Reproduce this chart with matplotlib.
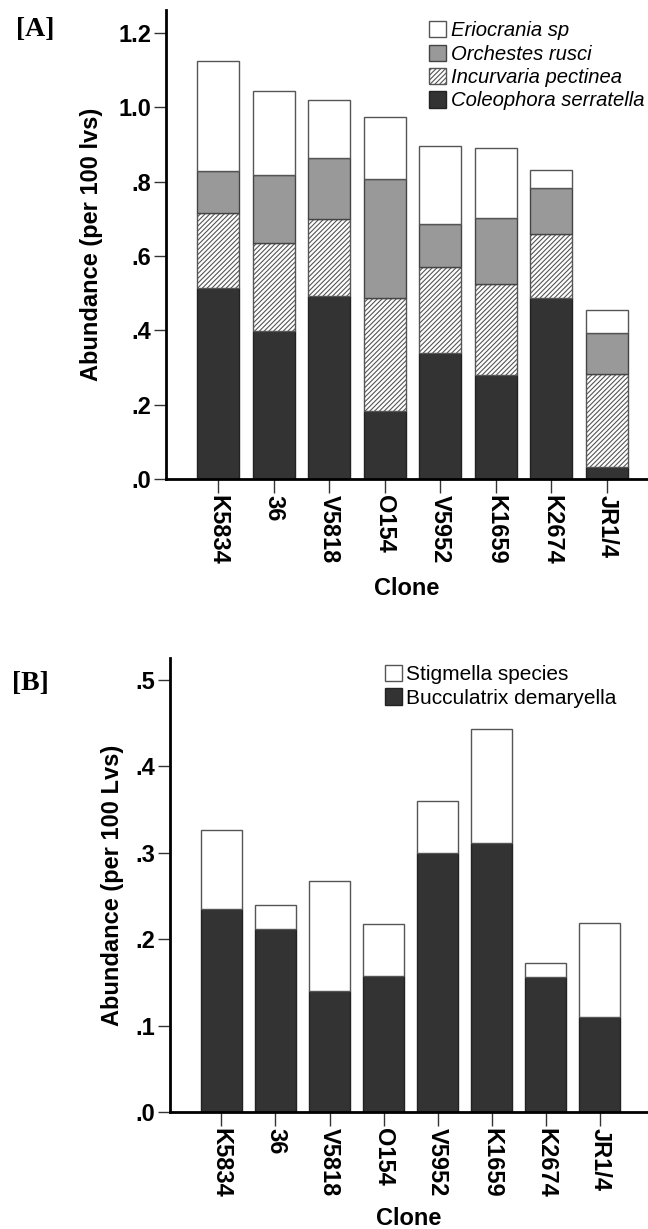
import numpy as np
import matplotlib.pyplot as plt

# clones on the x axis (same order in both panels)
clones = ['K5834', '36', 'V5818', 'O154', 'V5952', 'K1659', 'K2674', 'JR1/4']

# panel A: cumulative tops of each stacked layer (per 100 leaves)
coleophora_top = [0.513, 0.398, 0.492, 0.182, 0.340, 0.281, 0.487, 0.033]
incurvaria_top = [0.717, 0.634, 0.700, 0.487, 0.571, 0.524, 0.659, 0.283]
orchestes_top = [0.828, 0.818, 0.863, 0.808, 0.686, 0.703, 0.784, 0.394]
eriocrania_top = [1.125, 1.044, 1.021, 0.973, 0.895, 0.892, 0.831, 0.455]

# panel B: cumulative tops (per 100 leaves)
bucculatrix_top = [0.2345, 0.212, 0.140, 0.157, 0.299, 0.3105, 0.1566, 0.110]
stigmella_top = [0.326, 0.239, 0.267, 0.217, 0.3595, 0.4425, 0.172, 0.219]

plt.rcParams['font.family'] = ['Liberation Sans', 'DejaVu Sans']
plt.rcParams['hatch.linewidth'] = 0.8

fig = plt.figure(figsize=(6.48, 12.29), dpi=100)
W, H = 648, 1229
axA = fig.add_axes([166 / W, 1 - 479 / H, (648 - 166) / W, (479 - 10) / H])
axB = fig.add_axes([170 / W, 1 - 1112 / H, (648 - 170) / W, (1112 - 658) / H])

x = np.arange(len(clones))
bw = 0.76
dark = '#333333'
grey = '#999999'


def stack(ax, tops, styles):
    bottom = np.zeros(len(clones))
    handles = []
    for top, st in zip(tops, styles):
        top = np.array(top)
        h = ax.bar(x, top - bottom, bw, bottom=bottom, linewidth=1.0, **st)
        handles.append(h)
        bottom = top
    return handles


stylesA = [
    dict(color=dark, edgecolor='#222222', label='Coleophora serratella'),
    dict(facecolor='white', edgecolor='#555555', hatch='///////', label='Incurvaria pectinea'),
    dict(color=grey, edgecolor='#444444', label='Orchestes rusci'),
    dict(facecolor='white', edgecolor='#555555', label='Eriocrania sp'),
]
hA = stack(axA, [coleophora_top, incurvaria_top, orchestes_top, eriocrania_top], stylesA)

stylesB = [
    dict(color=dark, edgecolor='#222222', label='Bucculatrix demaryella'),
    dict(facecolor='white', edgecolor='#555555', label='Stigmella species'),
]
hB = stack(axB, [bucculatrix_top, stigmella_top], stylesB)

for ax in (axA, axB):
    ax.spines['top'].set_visible(False)
    ax.spines['right'].set_visible(False)
    ax.spines['left'].set_linewidth(2.0)
    ax.spines['bottom'].set_linewidth(2.0)
    ax.set_xticks(x)
    ax.set_xticklabels(clones, rotation=270, fontsize=17, fontweight='bold')
    ax.tick_params(axis='x', length=10, width=1, color='#333333', pad=1.5)
    ax.tick_params(axis='y', length=9, width=1, color='#333333', pad=1.5,
                   labelsize=17)

axA.set_xlim(-0.94, 7.74)
axA.set_ylim(0, 1.262)
axA.set_yticks([0, 0.2, 0.4, 0.6, 0.8, 1.0, 1.2])
axA.set_yticklabels(['.0', '.2', '.4', '.6', '.8', '1.0', '1.2'], fontweight='bold')
axA.set_ylabel('Abundance (per 100 lvs)', fontsize=17, fontweight='bold')
axA.yaxis.set_label_coords(-0.131, 0.5)
axA.set_xlabel('Clone', fontsize=17, fontweight='bold', labelpad=9)

axB.set_xlim(-0.95, 7.89)
axB.set_ylim(0, 0.525)
axB.set_yticks([0, 0.1, 0.2, 0.3, 0.4, 0.5])
axB.set_yticklabels(['.0', '.1', '.2', '.3', '.4', '.5'], fontweight='bold')
axB.set_ylabel('Abundance (per 100 Lvs)', fontsize=17, fontweight='bold')
axB.yaxis.set_label_coords(-0.096, 0.5)
axB.set_xlabel('Clone', fontsize=17, fontweight='bold', labelpad=7)

legA = axA.legend(hA[::-1], [s['label'] for s in stylesA[::-1]], loc='upper left',
                  bbox_to_anchor=(0.545, 0.976), frameon=False, handlelength=0.85,
                  handleheight=0.85, handletextpad=0.25, labelspacing=0.21,
                  borderaxespad=0, borderpad=0, prop=dict(style='italic', size=14.6))
legB = axB.legend(hB[::-1], [s['label'] for s in stylesB[::-1]], loc='upper left',
                  bbox_to_anchor=(0.449, 0.985), frameon=False, handlelength=0.85,
                  handleheight=0.85, handletextpad=0.2, labelspacing=0.2,
                  borderaxespad=0, borderpad=0, prop=dict(size=15))

fig.text(16 / W, 1 - 29 / H, '[A]', family='Liberation Serif', weight='bold',
         fontsize=20, va='center', ha='left')
fig.text(12 / W, 1 - 684 / H, '[B]', family='Liberation Serif', weight='bold',
         fontsize=20, va='center', ha='left')

fig.savefig('out.png', dpi=100)
